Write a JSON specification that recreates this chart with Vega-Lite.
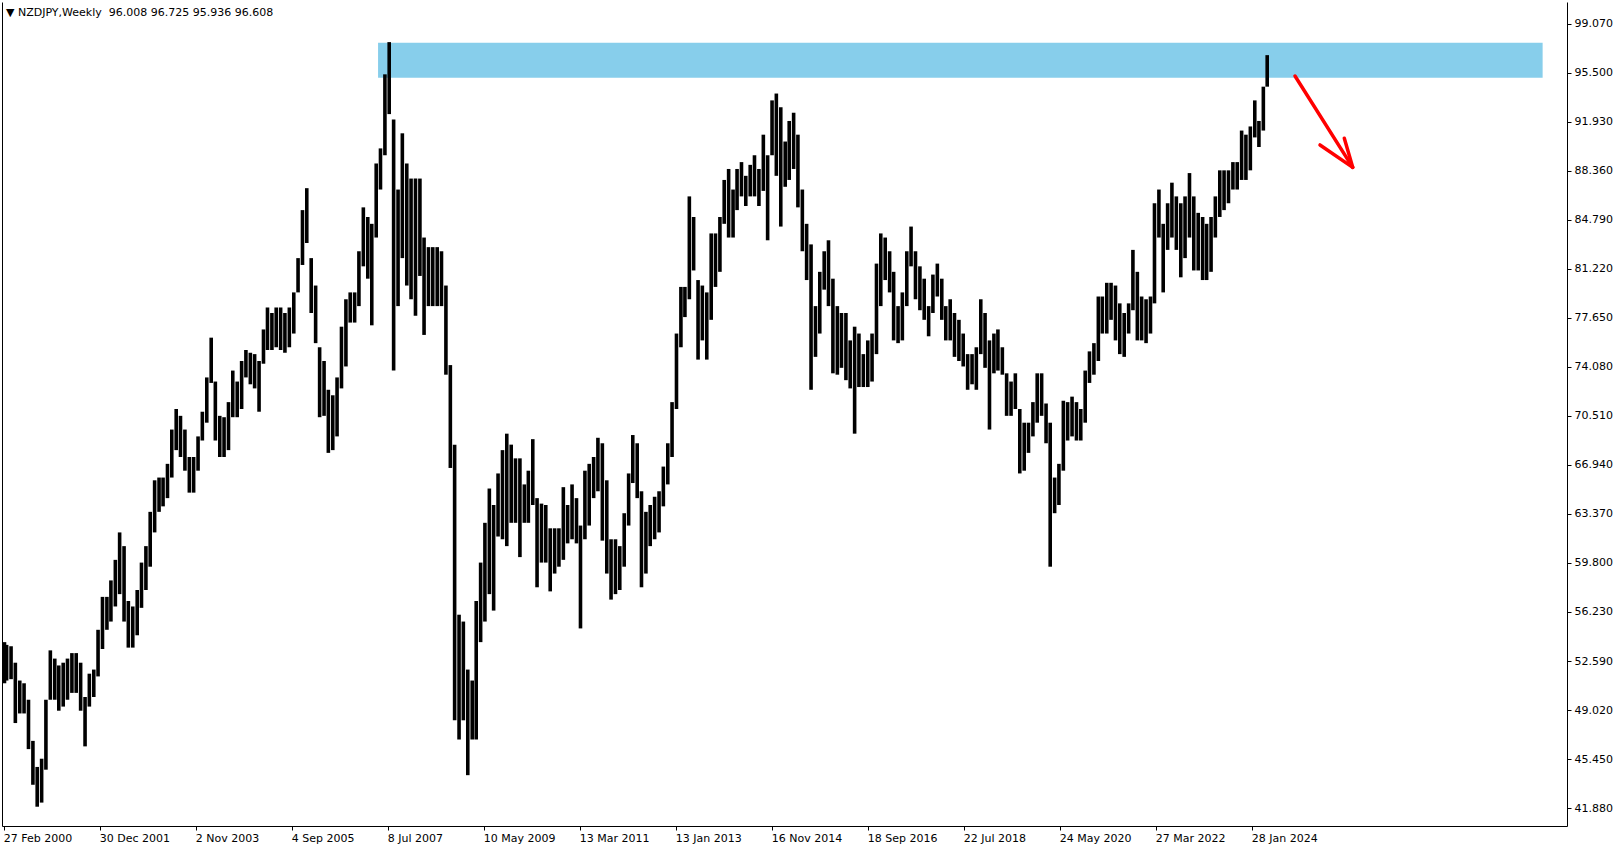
{
  "$schema": "https://vega.github.io/schema/vega-lite/v6.json",
  "width": 1565,
  "height": 824,
  "autosize": {"type": "none"},
  "padding": {"left": 2, "top": 2, "right": 57, "bottom": 24},
  "background": "white",
  "config": {"view": {"stroke": null}, "font": "DejaVu Sans"},
  "title": {
    "text": "▼ NZDJPY,Weekly\u00a0\u00a096.008 96.725 95.936 96.608",
    "anchor": "start", "frame": "group", "orient": "top", "offset": 0,
    "dx": 4, "dy": 25, "baseline": "alphabetic",
    "font": "DejaVu Sans", "fontSize": 11, "fontWeight": "normal", "color": "black"
  },
  "datasets": {
    "band": [{"t": "2007-04-28", "t2": "2029-08-22", "lo": 95.15, "hi": 97.71}],
    "last": [{"p": 96.608, "label": "96.608"}],
    "arrow": [
      {"seg": "s", "i": 0, "t": "2024-11-22T14:00:00Z", "p": 95.28},
      {"seg": "s", "i": 1, "t": "2025-12-31T12:00:00Z", "p": 88.62},
      {"seg": "a", "i": 0, "t": "2025-05-16T14:00:00Z", "p": 90.25},
      {"seg": "a", "i": 1, "t": "2025-12-31T12:00:00Z", "p": 88.62},
      {"seg": "b", "i": 0, "t": "2025-11-02T17:00:00Z", "p": 90.74},
      {"seg": "b", "i": 1, "t": "2025-12-31T12:00:00Z", "p": 88.62}
    ],
    "bars": [
      {"t":"2000-02-29","lo":51.0,"hi":54.0},
      {"t":"2000-03-15","lo":51.2,"hi":53.8},
      {"t":"2000-04-15","lo":51.3,"hi":53.7},
      {"t":"2000-05-15","lo":48.1,"hi":52.5},
      {"t":"2000-06-15","lo":48.8,"hi":51.2},
      {"t":"2000-07-15","lo":48.8,"hi":51.0},
      {"t":"2000-08-15","lo":46.2,"hi":49.8},
      {"t":"2000-09-15","lo":43.6,"hi":46.8},
      {"t":"2000-10-15","lo":42.0,"hi":44.9},
      {"t":"2000-11-15","lo":42.3,"hi":45.5},
      {"t":"2000-12-15","lo":44.7,"hi":49.8},
      {"t":"2001-01-15","lo":49.8,"hi":53.4},
      {"t":"2001-02-15","lo":49.8,"hi":52.8},
      {"t":"2001-03-15","lo":49.0,"hi":52.3},
      {"t":"2001-04-15","lo":49.3,"hi":52.5},
      {"t":"2001-05-15","lo":49.8,"hi":52.8},
      {"t":"2001-06-15","lo":50.3,"hi":53.2},
      {"t":"2001-07-15","lo":50.3,"hi":53.2},
      {"t":"2001-08-15","lo":49.0,"hi":52.5},
      {"t":"2001-09-15","lo":46.4,"hi":50.0},
      {"t":"2001-10-15","lo":49.3,"hi":51.7},
      {"t":"2001-11-15","lo":50.0,"hi":52.0},
      {"t":"2001-12-15","lo":51.5,"hi":54.9},
      {"t":"2002-01-15","lo":53.5,"hi":57.3},
      {"t":"2002-02-15","lo":54.9,"hi":57.3},
      {"t":"2002-03-15","lo":55.5,"hi":58.5},
      {"t":"2002-04-15","lo":56.6,"hi":60.0},
      {"t":"2002-05-15","lo":57.5,"hi":62.0},
      {"t":"2002-06-15","lo":55.5,"hi":61.0},
      {"t":"2002-07-15","lo":53.6,"hi":57.0},
      {"t":"2002-08-15","lo":53.6,"hi":56.6},
      {"t":"2002-09-15","lo":54.5,"hi":57.8},
      {"t":"2002-10-15","lo":56.5,"hi":59.8},
      {"t":"2002-11-15","lo":57.8,"hi":61.0},
      {"t":"2002-12-15","lo":59.5,"hi":63.5},
      {"t":"2003-01-15","lo":62.0,"hi":65.8},
      {"t":"2003-02-15","lo":63.5,"hi":66.0},
      {"t":"2003-03-15","lo":63.9,"hi":66.0},
      {"t":"2003-04-15","lo":64.5,"hi":67.0},
      {"t":"2003-05-15","lo":66.0,"hi":69.5},
      {"t":"2003-06-15","lo":68.0,"hi":71.0},
      {"t":"2003-07-15","lo":67.5,"hi":70.5},
      {"t":"2003-08-15","lo":66.5,"hi":69.5},
      {"t":"2003-09-15","lo":64.9,"hi":67.5},
      {"t":"2003-10-15","lo":64.9,"hi":67.5},
      {"t":"2003-11-15","lo":66.5,"hi":69.0},
      {"t":"2003-12-15","lo":68.7,"hi":70.8},
      {"t":"2004-01-15","lo":70.0,"hi":73.3},
      {"t":"2004-02-15","lo":72.9,"hi":76.2},
      {"t":"2004-03-15","lo":68.7,"hi":73.0},
      {"t":"2004-04-15","lo":67.5,"hi":70.5},
      {"t":"2004-05-15","lo":67.5,"hi":70.4},
      {"t":"2004-06-15","lo":68.0,"hi":71.5},
      {"t":"2004-07-15","lo":70.4,"hi":73.8},
      {"t":"2004-08-15","lo":70.4,"hi":73.0},
      {"t":"2004-09-15","lo":71.0,"hi":74.5},
      {"t":"2004-10-15","lo":73.3,"hi":75.3},
      {"t":"2004-11-15","lo":72.8,"hi":75.1},
      {"t":"2004-12-15","lo":72.5,"hi":75.0},
      {"t":"2005-01-15","lo":70.8,"hi":74.5},
      {"t":"2005-02-15","lo":74.3,"hi":76.8},
      {"t":"2005-03-15","lo":75.3,"hi":78.4},
      {"t":"2005-04-15","lo":75.3,"hi":78.0},
      {"t":"2005-05-15","lo":75.5,"hi":78.4},
      {"t":"2005-06-15","lo":75.3,"hi":78.4},
      {"t":"2005-07-15","lo":75.1,"hi":78.0},
      {"t":"2005-08-15","lo":75.5,"hi":78.4},
      {"t":"2005-09-15","lo":76.5,"hi":79.5},
      {"t":"2005-10-15","lo":79.5,"hi":82.0},
      {"t":"2005-11-15","lo":81.5,"hi":85.5},
      {"t":"2005-12-15","lo":83.1,"hi":87.1},
      {"t":"2006-01-15","lo":78.0,"hi":82.0},
      {"t":"2006-02-15","lo":75.8,"hi":80.0},
      {"t":"2006-03-15","lo":70.4,"hi":75.5},
      {"t":"2006-04-15","lo":70.5,"hi":74.5},
      {"t":"2006-05-15","lo":67.8,"hi":72.4},
      {"t":"2006-06-15","lo":68.0,"hi":72.0},
      {"t":"2006-07-15","lo":69.0,"hi":73.3},
      {"t":"2006-08-15","lo":72.5,"hi":77.0},
      {"t":"2006-09-15","lo":74.1,"hi":79.0},
      {"t":"2006-10-15","lo":77.3,"hi":79.5},
      {"t":"2006-11-15","lo":77.3,"hi":79.5},
      {"t":"2006-12-15","lo":78.5,"hi":82.5},
      {"t":"2007-01-15","lo":81.4,"hi":85.7},
      {"t":"2007-02-15","lo":80.5,"hi":85.0},
      {"t":"2007-03-15","lo":77.1,"hi":84.5},
      {"t":"2007-04-15","lo":83.5,"hi":88.9},
      {"t":"2007-05-15","lo":87.0,"hi":90.0},
      {"t":"2007-06-15","lo":89.5,"hi":95.4},
      {"t":"2007-07-15","lo":92.5,"hi":97.75},
      {"t":"2007-08-15","lo":73.8,"hi":92.1},
      {"t":"2007-09-15","lo":78.5,"hi":87.0},
      {"t":"2007-10-15","lo":82.0,"hi":91.1},
      {"t":"2007-11-15","lo":80.0,"hi":88.9},
      {"t":"2007-12-15","lo":79.0,"hi":87.8},
      {"t":"2008-01-15","lo":77.8,"hi":87.8},
      {"t":"2008-02-15","lo":80.7,"hi":87.8},
      {"t":"2008-03-15","lo":76.4,"hi":83.5},
      {"t":"2008-04-15","lo":78.5,"hi":82.8},
      {"t":"2008-05-15","lo":78.5,"hi":82.8},
      {"t":"2008-06-15","lo":78.5,"hi":82.8},
      {"t":"2008-07-15","lo":78.5,"hi":82.5},
      {"t":"2008-08-15","lo":73.5,"hi":80.0},
      {"t":"2008-09-15","lo":66.7,"hi":74.2},
      {"t":"2008-10-15","lo":48.3,"hi":68.4},
      {"t":"2008-11-15","lo":46.9,"hi":56.0},
      {"t":"2008-12-15","lo":48.3,"hi":55.5},
      {"t":"2009-01-15","lo":44.3,"hi":52.0},
      {"t":"2009-02-15","lo":46.9,"hi":51.2},
      {"t":"2009-03-15","lo":46.9,"hi":57.0},
      {"t":"2009-04-15","lo":54.0,"hi":59.8},
      {"t":"2009-05-15","lo":55.5,"hi":62.7},
      {"t":"2009-06-15","lo":57.5,"hi":65.2},
      {"t":"2009-07-15","lo":56.3,"hi":64.0},
      {"t":"2009-08-15","lo":61.7,"hi":66.3},
      {"t":"2009-09-15","lo":61.5,"hi":68.0},
      {"t":"2009-10-15","lo":61.0,"hi":69.2},
      {"t":"2009-11-15","lo":62.7,"hi":68.4},
      {"t":"2009-12-15","lo":62.7,"hi":67.4},
      {"t":"2010-01-15","lo":60.2,"hi":67.4},
      {"t":"2010-02-15","lo":62.7,"hi":65.5},
      {"t":"2010-03-15","lo":62.7,"hi":66.5},
      {"t":"2010-04-15","lo":64.0,"hi":68.8},
      {"t":"2010-05-15","lo":58.0,"hi":64.5},
      {"t":"2010-06-15","lo":59.8,"hi":64.1},
      {"t":"2010-07-15","lo":59.8,"hi":64.0},
      {"t":"2010-08-15","lo":57.7,"hi":62.3},
      {"t":"2010-09-15","lo":59.0,"hi":62.3},
      {"t":"2010-10-15","lo":59.5,"hi":62.3},
      {"t":"2010-11-15","lo":60.0,"hi":65.3},
      {"t":"2010-12-15","lo":61.2,"hi":64.0},
      {"t":"2011-01-15","lo":61.5,"hi":65.5},
      {"t":"2011-02-15","lo":61.2,"hi":64.5},
      {"t":"2011-03-15","lo":55.0,"hi":62.5},
      {"t":"2011-04-15","lo":61.5,"hi":66.5},
      {"t":"2011-05-15","lo":62.5,"hi":67.0},
      {"t":"2011-06-15","lo":64.5,"hi":67.5},
      {"t":"2011-07-15","lo":65.0,"hi":68.9},
      {"t":"2011-08-15","lo":61.4,"hi":68.5},
      {"t":"2011-09-15","lo":59.0,"hi":65.8},
      {"t":"2011-10-15","lo":57.1,"hi":61.5},
      {"t":"2011-11-15","lo":57.5,"hi":61.5},
      {"t":"2011-12-15","lo":57.8,"hi":61.0},
      {"t":"2012-01-15","lo":59.5,"hi":63.4},
      {"t":"2012-02-15","lo":62.5,"hi":66.3},
      {"t":"2012-03-15","lo":65.6,"hi":69.1},
      {"t":"2012-04-15","lo":64.5,"hi":68.5},
      {"t":"2012-05-15","lo":58.0,"hi":65.0},
      {"t":"2012-06-15","lo":59.0,"hi":63.5},
      {"t":"2012-07-15","lo":61.0,"hi":64.0},
      {"t":"2012-08-15","lo":61.5,"hi":64.6},
      {"t":"2012-09-15","lo":62.0,"hi":65.0},
      {"t":"2012-10-15","lo":63.9,"hi":66.8},
      {"t":"2012-11-15","lo":65.5,"hi":68.5},
      {"t":"2012-12-15","lo":67.5,"hi":71.5},
      {"t":"2013-01-15","lo":71.0,"hi":76.5},
      {"t":"2013-02-15","lo":75.5,"hi":79.9},
      {"t":"2013-03-15","lo":77.7,"hi":79.9},
      {"t":"2013-04-15","lo":79.0,"hi":86.5},
      {"t":"2013-05-15","lo":81.1,"hi":85.0},
      {"t":"2013-06-15","lo":74.6,"hi":80.4},
      {"t":"2013-07-15","lo":76.0,"hi":80.0},
      {"t":"2013-08-15","lo":74.6,"hi":79.5},
      {"t":"2013-09-15","lo":77.5,"hi":83.8},
      {"t":"2013-10-15","lo":79.9,"hi":83.8},
      {"t":"2013-11-15","lo":81.0,"hi":85.0},
      {"t":"2013-12-15","lo":84.5,"hi":87.7},
      {"t":"2014-01-15","lo":83.5,"hi":88.5},
      {"t":"2014-02-15","lo":83.5,"hi":87.0},
      {"t":"2014-03-15","lo":85.5,"hi":88.5},
      {"t":"2014-04-15","lo":86.5,"hi":89.0},
      {"t":"2014-05-15","lo":85.8,"hi":88.0},
      {"t":"2014-06-15","lo":86.5,"hi":88.8},
      {"t":"2014-07-15","lo":86.5,"hi":89.5},
      {"t":"2014-08-15","lo":85.8,"hi":88.5},
      {"t":"2014-09-15","lo":86.9,"hi":91.0},
      {"t":"2014-10-15","lo":83.3,"hi":89.5},
      {"t":"2014-11-15","lo":89.5,"hi":93.5},
      {"t":"2014-12-15","lo":88.0,"hi":94.0},
      {"t":"2015-01-15","lo":84.3,"hi":93.0},
      {"t":"2015-02-15","lo":87.2,"hi":90.5},
      {"t":"2015-03-15","lo":87.7,"hi":92.0},
      {"t":"2015-04-15","lo":88.5,"hi":92.6},
      {"t":"2015-05-15","lo":85.7,"hi":91.0},
      {"t":"2015-06-15","lo":82.5,"hi":87.0},
      {"t":"2015-07-15","lo":80.4,"hi":84.5},
      {"t":"2015-08-15","lo":72.4,"hi":83.0},
      {"t":"2015-09-15","lo":74.8,"hi":78.5},
      {"t":"2015-10-15","lo":76.5,"hi":81.0},
      {"t":"2015-11-15","lo":79.7,"hi":82.5},
      {"t":"2015-12-15","lo":78.5,"hi":83.3},
      {"t":"2016-01-15","lo":73.6,"hi":80.5},
      {"t":"2016-02-15","lo":73.5,"hi":78.5},
      {"t":"2016-03-15","lo":74.0,"hi":78.0},
      {"t":"2016-04-15","lo":73.1,"hi":78.0},
      {"t":"2016-05-15","lo":72.5,"hi":76.0},
      {"t":"2016-06-15","lo":69.2,"hi":77.0},
      {"t":"2016-07-15","lo":72.6,"hi":76.5},
      {"t":"2016-08-15","lo":72.6,"hi":75.0},
      {"t":"2016-09-15","lo":72.6,"hi":76.0},
      {"t":"2016-10-15","lo":73.0,"hi":76.5},
      {"t":"2016-11-15","lo":75.0,"hi":81.6},
      {"t":"2016-12-15","lo":78.5,"hi":83.8},
      {"t":"2017-01-15","lo":80.4,"hi":83.5},
      {"t":"2017-02-15","lo":79.5,"hi":82.5},
      {"t":"2017-03-15","lo":76.0,"hi":81.0},
      {"t":"2017-04-15","lo":75.8,"hi":78.5},
      {"t":"2017-05-15","lo":76.0,"hi":79.5},
      {"t":"2017-06-15","lo":78.5,"hi":82.5},
      {"t":"2017-07-15","lo":81.4,"hi":84.3},
      {"t":"2017-08-15","lo":79.0,"hi":82.5},
      {"t":"2017-09-15","lo":78.2,"hi":81.4},
      {"t":"2017-10-15","lo":77.5,"hi":80.5},
      {"t":"2017-11-15","lo":76.3,"hi":78.5},
      {"t":"2017-12-15","lo":78.0,"hi":80.8},
      {"t":"2018-01-15","lo":79.2,"hi":81.6},
      {"t":"2018-02-15","lo":77.5,"hi":80.5},
      {"t":"2018-03-15","lo":76.0,"hi":78.5},
      {"t":"2018-04-15","lo":76.0,"hi":79.0},
      {"t":"2018-05-15","lo":74.8,"hi":78.0},
      {"t":"2018-06-15","lo":74.5,"hi":77.5},
      {"t":"2018-07-15","lo":74.1,"hi":76.5},
      {"t":"2018-08-15","lo":72.4,"hi":75.0},
      {"t":"2018-09-15","lo":72.8,"hi":75.0},
      {"t":"2018-10-15","lo":72.4,"hi":75.5},
      {"t":"2018-11-15","lo":75.0,"hi":79.0},
      {"t":"2018-12-15","lo":74.0,"hi":78.0},
      {"t":"2019-01-15","lo":69.5,"hi":76.0},
      {"t":"2019-02-15","lo":73.6,"hi":76.5},
      {"t":"2019-03-15","lo":73.8,"hi":76.8},
      {"t":"2019-04-15","lo":73.5,"hi":75.5},
      {"t":"2019-05-15","lo":70.5,"hi":73.6},
      {"t":"2019-06-15","lo":70.5,"hi":73.0},
      {"t":"2019-07-15","lo":71.0,"hi":73.6},
      {"t":"2019-08-15","lo":66.3,"hi":71.0},
      {"t":"2019-09-15","lo":66.5,"hi":70.0},
      {"t":"2019-10-15","lo":67.8,"hi":70.0},
      {"t":"2019-11-15","lo":69.0,"hi":71.5},
      {"t":"2019-12-15","lo":70.0,"hi":73.6},
      {"t":"2020-01-15","lo":70.5,"hi":73.6},
      {"t":"2020-02-15","lo":68.5,"hi":71.4},
      {"t":"2020-03-15","lo":59.5,"hi":70.0},
      {"t":"2020-04-15","lo":63.4,"hi":66.0},
      {"t":"2020-05-15","lo":64.0,"hi":67.0},
      {"t":"2020-06-15","lo":66.5,"hi":71.6},
      {"t":"2020-07-15","lo":68.7,"hi":71.5},
      {"t":"2020-08-15","lo":69.0,"hi":71.9},
      {"t":"2020-09-15","lo":68.7,"hi":71.5},
      {"t":"2020-10-15","lo":68.7,"hi":71.0},
      {"t":"2020-11-15","lo":70.0,"hi":73.8},
      {"t":"2020-12-15","lo":72.9,"hi":75.2},
      {"t":"2021-01-15","lo":73.5,"hi":75.8},
      {"t":"2021-02-15","lo":74.5,"hi":79.2},
      {"t":"2021-03-15","lo":76.5,"hi":79.2},
      {"t":"2021-04-15","lo":76.5,"hi":80.2},
      {"t":"2021-05-15","lo":77.5,"hi":80.2},
      {"t":"2021-06-15","lo":76.0,"hi":80.0},
      {"t":"2021-07-15","lo":75.0,"hi":78.7},
      {"t":"2021-08-15","lo":74.8,"hi":78.0},
      {"t":"2021-09-15","lo":76.5,"hi":78.7},
      {"t":"2021-10-15","lo":78.2,"hi":82.6},
      {"t":"2021-11-15","lo":76.0,"hi":81.0},
      {"t":"2021-12-15","lo":76.0,"hi":79.2},
      {"t":"2022-01-15","lo":75.8,"hi":79.0},
      {"t":"2022-02-15","lo":76.5,"hi":79.2},
      {"t":"2022-03-15","lo":78.7,"hi":86.0},
      {"t":"2022-04-15","lo":83.5,"hi":87.0},
      {"t":"2022-05-15","lo":79.5,"hi":84.5},
      {"t":"2022-06-15","lo":82.6,"hi":86.0},
      {"t":"2022-07-15","lo":83.5,"hi":87.5},
      {"t":"2022-08-15","lo":82.6,"hi":86.5},
      {"t":"2022-09-15","lo":80.6,"hi":86.0},
      {"t":"2022-10-15","lo":82.0,"hi":86.5},
      {"t":"2022-11-15","lo":83.5,"hi":88.2},
      {"t":"2022-12-15","lo":81.1,"hi":86.5},
      {"t":"2023-01-15","lo":81.1,"hi":85.3},
      {"t":"2023-02-15","lo":80.4,"hi":85.0},
      {"t":"2023-03-15","lo":80.4,"hi":84.5},
      {"t":"2023-04-15","lo":81.0,"hi":85.0},
      {"t":"2023-05-15","lo":83.5,"hi":86.5},
      {"t":"2023-06-15","lo":85.0,"hi":88.4},
      {"t":"2023-07-15","lo":85.5,"hi":88.4},
      {"t":"2023-08-15","lo":86.0,"hi":88.4},
      {"t":"2023-09-15","lo":87.0,"hi":89.0},
      {"t":"2023-10-15","lo":87.0,"hi":89.0},
      {"t":"2023-11-15","lo":87.7,"hi":91.3},
      {"t":"2023-12-15","lo":87.7,"hi":91.0},
      {"t":"2024-01-15","lo":88.4,"hi":91.6},
      {"t":"2024-02-15","lo":90.8,"hi":93.5},
      {"t":"2024-03-15","lo":90.1,"hi":92.0},
      {"t":"2024-04-15","lo":91.3,"hi":94.5},
      {"t":"2024-05-12","lo":94.5,"hi":96.8}
    ]
  },
  "encoding": {
    "x": {
      "field": "t", "type": "temporal",
      "scale": {
        "type": "utc", "nice": false,
        "domain": [
          {"year": 2000, "month": 2, "date": 11, "hours": 14, "minutes": 24, "utc": true},
          {"year": 2030, "month": 2, "date": 8, "hours": 14, "minutes": 24, "utc": true}
        ]
      },
      "axis": {
        "orient": "bottom", "title": null, "grid": false,
        "values": [
          {"year": 2000, "month": 2, "date": 27, "utc": true},
          {"year": 2001, "month": 12, "date": 30, "utc": true},
          {"year": 2003, "month": 11, "date": 2, "utc": true},
          {"year": 2005, "month": 9, "date": 4, "utc": true},
          {"year": 2007, "month": 7, "date": 8, "utc": true},
          {"year": 2009, "month": 5, "date": 10, "utc": true},
          {"year": 2011, "month": 3, "date": 13, "utc": true},
          {"year": 2013, "month": 1, "date": 13, "utc": true},
          {"year": 2014, "month": 11, "date": 16, "utc": true},
          {"year": 2016, "month": 9, "date": 18, "utc": true},
          {"year": 2018, "month": 7, "date": 22, "utc": true},
          {"year": 2020, "month": 5, "date": 24, "utc": true},
          {"year": 2022, "month": 3, "date": 27, "utc": true},
          {"year": 2024, "month": 1, "date": 28, "utc": true}
        ],
        "format": "%-d %b %Y",
        "labelAlign": "left", "labelOffset": -1, "labelBaseline": "top",
        "tickSize": 4, "labelPadding": 2,
        "domainColor": "black", "tickColor": "black", "labelColor": "black",
        "labelFont": "DejaVu Sans", "labelFontSize": 11,
        "labelFlush": false, "labelOverlap": false, "labelBound": false
      }
    }
  },
  "resolve": {"axis": {"y": "independent"}},
  "layer": [
    {
      "data": {"name": "band"},
      "mark": {"type": "rect", "color": "#87CEEB"},
      "encoding": {
        "x2": {"field": "t2"},
        "y": {
          "field": "lo", "type": "quantitative",
          "scale": {"domain": [40.594, 100.674], "nice": false, "zero": false},
          "axis": {"orient": "left", "labels": false, "ticks": false, "domain": true, "grid": false, "title": null, "domainColor": "black"}
        },
        "y2": {"field": "hi"}
      }
    },
    {
      "data": {"name": "bars"},
      "mark": {"type": "rule", "color": "black", "strokeWidth": 3.6},
      "encoding": {
        "y": {
          "field": "lo", "type": "quantitative",
          "axis": {
            "orient": "right", "title": null, "grid": false,
            "values": [41.88, 45.45, 49.02, 52.59, 56.23, 59.8, 63.37, 66.94, 70.51, 74.08, 77.65, 81.22, 84.79, 88.36, 91.93, 95.5, 99.07],
            "format": ".3f", "tickSize": 4, "labelPadding": 3,
            "domainColor": "black", "tickColor": "black", "labelColor": "black",
            "labelFont": "DejaVu Sans", "labelFontSize": 11, "labelBaseline": "middle",
            "labelFlush": false, "labelOverlap": false, "labelBound": false
          }
        },
        "y2": {"field": "hi"}
      }
    },
    {
      "data": {"name": "arrow"},
      "mark": {"type": "line", "color": "#FF0000", "strokeWidth": 3.5, "strokeCap": "round", "strokeJoin": "round"},
      "encoding": {
        "y": {"field": "p", "type": "quantitative", "axis": null},
        "detail": {"field": "seg"},
        "order": {"field": "i"}
      }
    },
    {
      "data": {"name": "last"},
      "mark": {"type": "rect", "color": "black", "width": 48, "height": 12.5},
      "encoding": {
        "x": {"datum": {"year": 2030, "month": 8, "date": 13, "utc": true}, "type": "temporal"},
        "y": {"field": "p", "type": "quantitative", "axis": null}
      }
    },
    {
      "data": {"name": "last"},
      "mark": {"type": "text", "color": "white", "font": "DejaVu Sans", "fontSize": 11, "align": "center", "baseline": "middle"},
      "encoding": {
        "x": {"datum": {"year": 2030, "month": 8, "date": 13, "utc": true}, "type": "temporal"},
        "y": {"field": "p", "type": "quantitative", "axis": null},
        "text": {"field": "label"}
      }
    }
  ]
}
